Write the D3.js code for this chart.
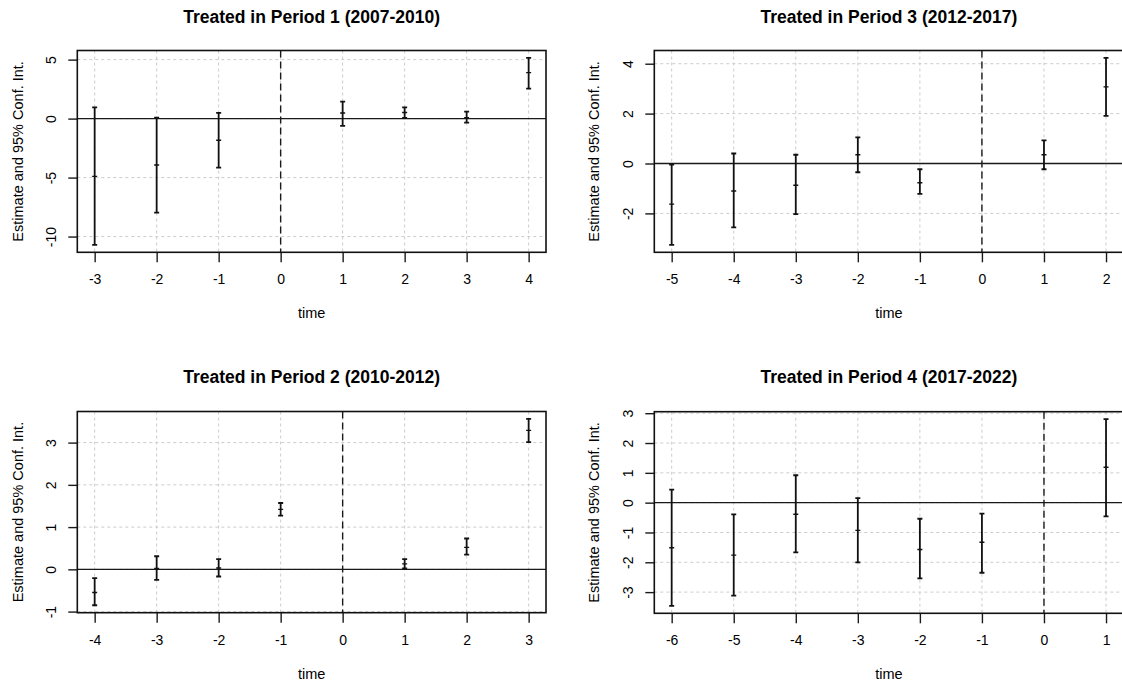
<!DOCTYPE html>
<html>
<head>
<meta charset="utf-8">
<script src="https://cdn.jsdelivr.net/npm/d3@7"></script>
<style>
  body { margin: 0; background: #fff; }
  svg { display: block; font-family: "Liberation Sans", Arial, sans-serif; }
</style>
</head>
<body>
<div id="chart"></div>
<script>
// event-study estimates
const titles = [
    "Treated in Period 1 (2007-2010)",
    "Treated in Period 3 (2012-2017)",
    "Treated in Period 2 (2010-2012)",
    "Treated in Period 4 (2017-2022)"
];

const p1Time = [-3, -2, -1, 1, 2, 3, 4];
const p1Est  = [-4.9, -3.93, -1.84, 0.48, 0.52, 0.07, 3.9];
const p1Lo   = [-10.7, -7.97, -4.15, -0.62, 0.07, -0.34, 2.55];
const p1Hi   = [0.96, 0.08, 0.48, 1.44, 0.96, 0.59, 5.14];
const p1YTicks = [-10, -5, 0, 5];

const p3Time = [-5, -4, -3, -2, -1, 1, 2];
const p3Est  = [-1.63, -1.10, -0.87, 0.35, -0.77, 0.35, 3.07];
const p3Lo   = [-3.26, -2.56, -2.03, -0.35, -1.22, -0.23, 1.91];
const p3Hi   = [-0.04, 0.40, 0.35, 1.05, -0.23, 0.93, 4.23];
const p3YTicks = [-2, 0, 2, 4];

const p2Time = [-4, -3, -2, -1, 1, 2, 3];
const p2Est  = [-0.55, 0.02, 0.03, 1.42, 0.13, 0.52, 3.29];
const p2Lo   = [-0.85, -0.25, -0.17, 1.27, 0.02, 0.35, 3.01];
const p2Hi   = [-0.21, 0.31, 0.24, 1.57, 0.24, 0.73, 3.56];
const p2YTicks = [-1, 0, 1, 2, 3];

const p4Time = [-6, -5, -4, -3, -2, -1, 1];
const p4Est  = [-1.51, -1.76, -0.39, -0.93, -1.57, -1.33, 1.19];
const p4Lo   = [-3.46, -3.12, -1.67, -2.00, -2.54, -2.35, -0.46];
const p4Hi   = [0.44, -0.39, 0.92, 0.15, -0.54, -0.37, 2.80];
const p4YTicks = [-3, -2, -1, 0, 1, 2, 3];

const width = 1122;
const height = 686;

const panels = [
    { title: titles[0], time: p1Time, est: p1Est, lo: p1Lo, hi: p1Hi, yTicks: p1YTicks,
      box: { l: 77.3, r: 546, t: 50.5, b: 252.3 }, titleY: 23, ylabX: 18 },
    { title: titles[1], time: p3Time, est: p3Est, lo: p3Lo, hi: p3Hi, yTicks: p3YTicks,
      box: { l: 654.3, r: 1123.4, t: 50.5, b: 252.3 }, titleY: 23, ylabX: 594 },
    { title: titles[2], time: p2Time, est: p2Est, lo: p2Lo, hi: p2Hi, yTicks: p2YTicks,
      box: { l: 77.3, r: 546, t: 411.5, b: 612.7 }, titleY: 383, ylabX: 18 },
    { title: titles[3], time: p4Time, est: p4Est, lo: p4Lo, hi: p4Hi, yTicks: p4YTicks,
      box: { l: 654.3, r: 1123.4, t: 411.7, b: 613.3 }, titleY: 383, ylabX: 594 }
];

const svg = d3.select("#chart")
    .append("svg")
    .attr("width", width)
    .attr("height", height);

// R-style axis limits: data range widened by 4% on each side
function rRange(vals) {
    const ext = d3.extent(vals);
    const pad = (ext[1] - ext[0]) * 0.04;
    return [ext[0] - pad, ext[1] + pad];
}

panels.forEach((p, i) => {
    const b = p.box;
    const g = svg.append("g");

    const xExt = d3.extent(p.time.concat([0]));
    const xScale = d3.scaleLinear().domain(rRange(p.time.concat([0]))).range([b.l, b.r]);
    const yScale = d3.scaleLinear().domain(rRange(p.lo.concat(p.hi))).range([b.b, b.t]);
    const xTicks = d3.range(xExt[0], xExt[1] + 1);

    svg.append("clipPath").attr("id", "clip" + i)
        .append("rect")
        .attr("x", b.l).attr("y", b.t)
        .attr("width", b.r - b.l).attr("height", b.b - b.t);

    const plot = g.append("g").attr("clip-path", `url(#clip${i})`);

    // grid
    plot.selectAll(".gx")
        .data(xTicks)
        .enter()
        .append("line")
        .attr("x1", d => xScale(d)).attr("x2", d => xScale(d))
        .attr("y1", b.t).attr("y2", b.b)
        .attr("stroke", "#cccccc")
        .attr("stroke-dasharray", "3,3");

    plot.selectAll(".gy")
        .data(p.yTicks)
        .enter()
        .append("line")
        .attr("x1", b.l).attr("x2", b.r)
        .attr("y1", d => yScale(d)).attr("y2", d => yScale(d))
        .attr("stroke", "#cccccc")
        .attr("stroke-dasharray", "3,3");

    // reference lines
    plot.append("line")
        .attr("x1", b.l).attr("x2", b.r)
        .attr("y1", yScale(0)).attr("y2", yScale(0))
        .attr("stroke", "#1a1a1a")
        .attr("stroke-width", 1.4);

    plot.append("line")
        .attr("x1", xScale(0)).attr("x2", xScale(0))
        .attr("y1", b.t).attr("y2", b.b)
        .attr("stroke", "#1a1a1a")
        .attr("stroke-width", 1.4)
        .attr("stroke-dasharray", "7,4");

    // error bars
    const rows = p.time.map((t, k) => ({ t: t, est: p.est[k], lo: p.lo[k], hi: p.hi[k] }));
    const bars = plot.selectAll(".bar")
        .data(rows)
        .enter()
        .append("g")
        .attr("stroke", "#111")
        .attr("stroke-width", 1.8);

    bars.append("line")
        .attr("x1", d => xScale(d.t)).attr("x2", d => xScale(d.t))
        .attr("y1", d => yScale(d.lo)).attr("y2", d => yScale(d.hi));

    ["lo", "hi", "est"].forEach(k => {
        bars.append("line")
            .attr("x1", d => xScale(d.t) - 2.5).attr("x2", d => xScale(d.t) + 2.5)
            .attr("y1", d => yScale(d[k])).attr("y2", d => yScale(d[k]))
            .attr("stroke-width", k === "est" ? 1.4 : 1.8);
    });

    // axes
    const xAxis = g.append("g")
        .attr("transform", `translate(0,${b.b})`)
        .call(d3.axisBottom(xScale).tickValues(xTicks).tickSize(10).tickFormat(d3.format("d")));
    xAxis.select(".domain").remove();
    xAxis.selectAll("line").attr("stroke", "#1a1a1a").attr("stroke-width", 1.4);
    xAxis.selectAll("text")
        .attr("y", 27).attr("dy", null)
        .attr("dominant-baseline", "central")
        .attr("fill", "#000")
        .style("font-size", "14px")
        .style("font-family", "Liberation Sans, Arial, sans-serif")
        .text(d => String(d));

    const yAxis = g.append("g")
        .attr("transform", `translate(${b.l},0)`)
        .call(d3.axisLeft(yScale).tickValues(p.yTicks).tickSize(9).tickFormat(d3.format("d")));
    yAxis.select(".domain").remove();
    yAxis.selectAll("line").attr("stroke", "#1a1a1a").attr("stroke-width", 1.4);
    yAxis.selectAll("text")
        .attr("x", null).attr("dy", null)
        .attr("text-anchor", "middle")
        .attr("dominant-baseline", "central")
        .attr("transform", "translate(-26,0) rotate(-90)")
        .attr("fill", "#000")
        .style("font-size", "14px")
        .style("font-family", "Liberation Sans, Arial, sans-serif")
        .text(d => String(d));

    // box
    g.append("rect")
        .attr("x", b.l).attr("y", b.t)
        .attr("width", b.r - b.l).attr("height", b.b - b.t)
        .attr("fill", "none")
        .attr("stroke", "#111")
        .attr("stroke-width", 1.6);

    // labels
    const cx = (b.l + b.r) / 2;
    g.append("text")
        .attr("x", cx).attr("y", p.titleY)
        .attr("text-anchor", "middle")
        .style("font-size", "17.5px")
        .style("font-weight", "bold")
        .text(p.title);

    g.append("text")
        .attr("x", cx).attr("y", b.b + 61)
        .attr("text-anchor", "middle")
        .attr("dominant-baseline", "central")
        .style("font-size", "14.5px")
        .text("time");

    g.append("text")
        .attr("transform", `translate(${p.ylabX},${(b.t + b.b) / 2}) rotate(-90)`)
        .attr("text-anchor", "middle")
        .attr("dominant-baseline", "central")
        .style("font-size", "14.5px")
        .text("Estimate and 95% Conf. Int.");
});
</script>
</body>
</html>
